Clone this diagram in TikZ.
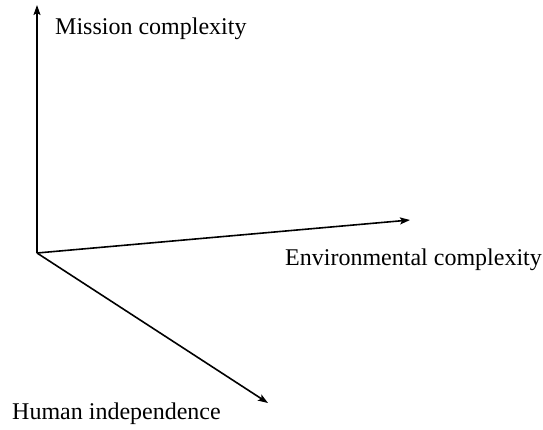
\documentclass[tikz,border=0pt]{standalone}
\usepackage{fontspec}
\setmainfont{Liberation Serif}
\usetikzlibrary{arrows.meta}
\begin{document}
\begin{tikzpicture}[x=1pt,y=-1pt,
  axis/.style={line width=1.6pt,-{Stealth[length=10pt,width=7pt,inset=2pt]}},
  lbl/.style={font=\fontsize{24}{28}\selectfont,inner sep=0pt}]
\useasboundingbox (0,0) rectangle (543,429);
% origin of the three axes and their tips
\coordinate (o) at (37,253);
\coordinate (up) at (37,5);
\coordinate (right) at (410,220);
\coordinate (diag) at (268,403);
\draw[axis] (o) -- (up);
\draw[axis] (o) -- (right);
\draw[axis] (o) -- (diag);
% axis labels
\node[lbl,anchor=west] (mc) at (55,29) {Mission complexity};
\node[lbl,anchor=west] (ec) at (285,260) {Environmental complexity};
\node[lbl,anchor=west] (hi) at (12,414) {Human independence};
\end{tikzpicture}
\end{document}
